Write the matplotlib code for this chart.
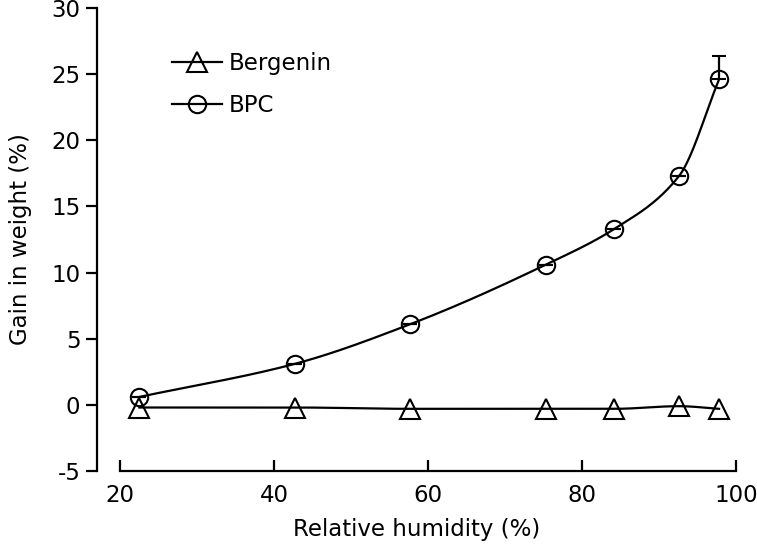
import numpy as np
import matplotlib
matplotlib.use("Agg")
import matplotlib.pyplot as plt
from matplotlib.lines import Line2D

# relative humidity (%) for each storage condition
humidity = [22.5, 42.7, 57.7, 75.3, 84.2, 92.6, 97.8]
# weight gain (%)
bergenin = [-0.2, -0.2, -0.3, -0.3, -0.3, -0.1, -0.3]
bpc = [0.6, 3.1, 6.1, 10.6, 13.3, 17.3, 24.6]
bpc_err = [0, 0, 0, 0, 0, 0, 1.8]


def smooth(x, y, n=40):
    # monotone cubic hermite curve through the points (for the drawn line only)
    x = np.asarray(x, float)
    y = np.asarray(y, float)
    h = np.diff(x)
    d = np.diff(y) / h
    m = np.zeros_like(y)
    m[0], m[-1] = d[0], d[-1]
    for i in range(1, len(x) - 1):
        if d[i - 1] * d[i] > 0:
            w1 = 2 * h[i] + h[i - 1]
            w2 = h[i] + 2 * h[i - 1]
            m[i] = (w1 + w2) / (w1 / d[i - 1] + w2 / d[i])
    xs, ys = [], []
    for i in range(len(x) - 1):
        t = np.linspace(0, 1, n)
        h00 = 2 * t**3 - 3 * t**2 + 1
        h10 = t**3 - 2 * t**2 + t
        h01 = -2 * t**3 + 3 * t**2
        h11 = t**3 - t**2
        xs.append(x[i] + t * h[i])
        ys.append(h00 * y[i] + h10 * h[i] * m[i] + h01 * y[i + 1] + h11 * h[i] * m[i + 1])
    return np.concatenate(xs), np.concatenate(ys)


plt.rcParams["font.family"] = ["DejaVu Sans"]
plt.rcParams["axes.unicode_minus"] = False

fig = plt.figure(figsize=(7.57, 5.46), dpi=100)
ax = fig.add_axes([97 / 757, 75 / 546, (736 - 97) / 757, (471 - 8) / 546])

mk = dict(markerfacecolor="none", markeredgecolor="black", markeredgewidth=1.5,
          linestyle="none")

sx, sy = smooth(humidity, bergenin)
ax.plot(sx, sy, color="black", lw=1.6)
ax.plot(humidity, bergenin, marker="^", ms=14, **mk)

sx, sy = smooth(humidity, bpc)
ax.plot(sx, sy, color="black", lw=1.6)
ax.errorbar(humidity, bpc, yerr=[[0] * len(bpc), bpc_err], fmt="o", color="black",
            ms=12.5, capsize=5, elinewidth=1.6, capthick=1.6,
            markerfacecolor="none", markeredgecolor="black", markeredgewidth=1.5)

ax.set_xlim(17, 100)
ax.set_ylim(-5, 30)
ax.set_xticks([20, 40, 60, 80, 100])
ax.set_yticks([-5, 0, 5, 10, 15, 20, 25, 30])
ax.spines["top"].set_visible(False)
ax.spines["right"].set_visible(False)
ax.spines["bottom"].set_bounds(20, 100)
for s in ["left", "bottom"]:
    ax.spines[s].set_linewidth(1.6)
ax.tick_params(axis="x", direction="in", length=8, width=1.6, labelsize=16.5, pad=9)
ax.tick_params(axis="y", direction="out", length=8, width=1.6, labelsize=16.5, pad=4)

ax.set_xlabel("Relative humidity (%)", fontsize=16.5, labelpad=8)
ax.set_ylabel("Gain in weight (%)", fontsize=16.5, labelpad=14)

handles = [
    Line2D([], [], color="black", lw=1.6, marker="^", ms=14, markerfacecolor="none",
           markeredgecolor="black", markeredgewidth=1.5),
    Line2D([], [], color="black", lw=1.6, marker="o", ms=12.5, markerfacecolor="none",
           markeredgecolor="black", markeredgewidth=1.5),
]
ax.legend(handles, ["Bergenin", "BPC"], loc="upper left", bbox_to_anchor=(0.085, 0.95),
          frameon=False, fontsize=16.5, handlelength=2.2, handletextpad=0.3,
          labelspacing=0.85)

fig.savefig("out.png", dpi=100)
